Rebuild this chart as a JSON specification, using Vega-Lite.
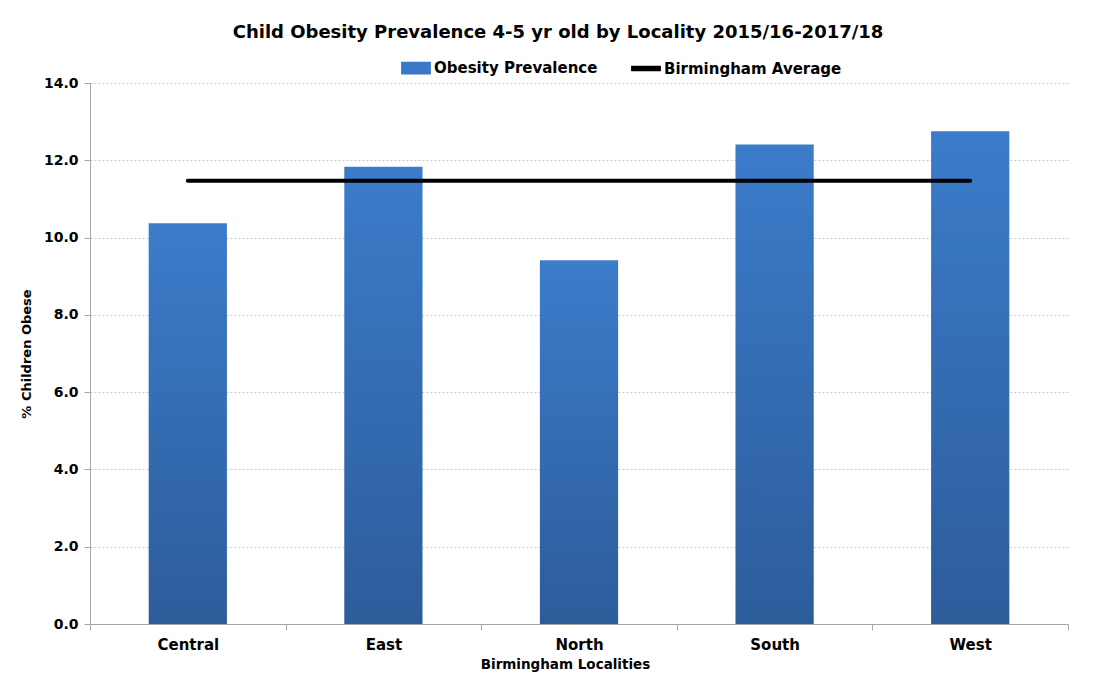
{
  "$schema": "https://vega.github.io/schema/vega-lite/v6.json",
  "width": 978,
  "height": 541,
  "autosize": {"type": "none"},
  "padding": {"left": 90, "top": 83, "right": 32, "bottom": 55},
  "background": "white",
  "title": {
    "text": "Child Obesity Prevalence 4-5 yr old by Locality 2015/16-2017/18",
    "font": "DejaVu Sans",
    "fontSize": 18,
    "fontWeight": "bold",
    "color": "black",
    "anchor": "middle",
    "dx": -21,
    "offset": 11
  },
  "data": {
    "values": [
      {"locality": "Central", "prevalence": 10.37, "average": 11.47},
      {"locality": "East", "prevalence": 11.83, "average": 11.47},
      {"locality": "North", "prevalence": 9.41, "average": 11.47},
      {"locality": "South", "prevalence": 12.41, "average": 11.47},
      {"locality": "West", "prevalence": 12.75, "average": 11.47}
    ]
  },
  "encoding": {
    "x": {
      "field": "locality",
      "type": "nominal",
      "sort": null,
      "scale": {"paddingInner": 0, "paddingOuter": 0},
      "axis": {
        "title": "Birmingham Localities",
        "titleX": 475,
        "labelAngle": 0,
        "labelFont": "DejaVu Sans",
        "labelFontSize": 15,
        "labelFontWeight": "bold",
        "labelColor": "black",
        "labelPadding": 7,
        "titleFont": "DejaVu Sans",
        "titleFontSize": 13.5,
        "titleFontWeight": "bold",
        "titleColor": "black",
        "titlePadding": 5,
        "domainColor": "#a6a6a6",
        "tickColor": "#a6a6a6",
        "tickSize": 6,
        "tickBand": "extent",
        "grid": false
      }
    }
  },
  "layer": [
    {
      "mark": {"type": "bar", "width": {"band": 0.4}},
      "encoding": {
        "y": {
          "field": "prevalence",
          "type": "quantitative",
          "scale": {"domain": [0, 14]},
          "axis": {
            "title": "% Children Obese",
            "values": [0, 2, 4, 6, 8, 10, 12, 14],
            "format": ".1f",
            "labelFont": "DejaVu Sans",
            "labelFontSize": 14,
            "labelFontWeight": "bold",
            "labelColor": "black",
            "labelPadding": 6,
            "titleFont": "DejaVu Sans",
            "titleFontSize": 13,
            "titleFontWeight": "bold",
            "titleColor": "black",
            "titlePadding": 10,
            "domainColor": "#a6a6a6",
            "tickColor": "#a6a6a6",
            "tickSize": 6,
            "gridColor": "#c8c8c8",
            "gridDash": [2, 2],
            "gridWidth": 1
          }
        },
        "fill": {
          "value": {
            "gradient": "linear",
            "x1": 0, "y1": 0, "x2": 0, "y2": 1,
            "stops": [
              {"offset": 0, "color": "#3B7CCB"},
              {"offset": 1, "color": "#2D5C9A"}
            ]
          }
        }
      }
    },
    {
      "mark": {"type": "line", "strokeWidth": 4, "strokeCap": "round"},
      "encoding": {
        "y": {"field": "average", "type": "quantitative"},
        "color": {
          "datum": "Birmingham Average",
          "scale": {"domain": ["Obesity Prevalence", "Birmingham Average"], "range": ["#3A79C8", "black"]},
          "legend": {
            "orient": "none",
            "legendX": 311,
            "legendY": -30,
            "direction": "horizontal",
            "title": null,
            "labelFont": "DejaVu Sans",
            "labelFontSize": 15,
            "labelFontWeight": "bold",
            "labelColor": "black",
            "labelOffset": 3,
            "labelLimit": 400,
            "columnPadding": 30,
            "symbolSize": 800,
            "encode": {
              "symbols": {
                "update": {
                  "shape": {"signal": "datum.value === 'Obesity Prevalence' ? 'M-1,-0.4H1V0.4H-1Z' : 'M-1,-0.14H1V0.14H-1Z'"},
                  "fill": {"signal": "datum.value === 'Obesity Prevalence' ? '#3A79C8' : 'black'"},
                  "stroke": {"value": "transparent"},
                  "opacity": {"value": 1}
                }
              }
            }
          }
        }
      }
    }
  ],
  "config": {
    "view": {"stroke": null}
  }
}
